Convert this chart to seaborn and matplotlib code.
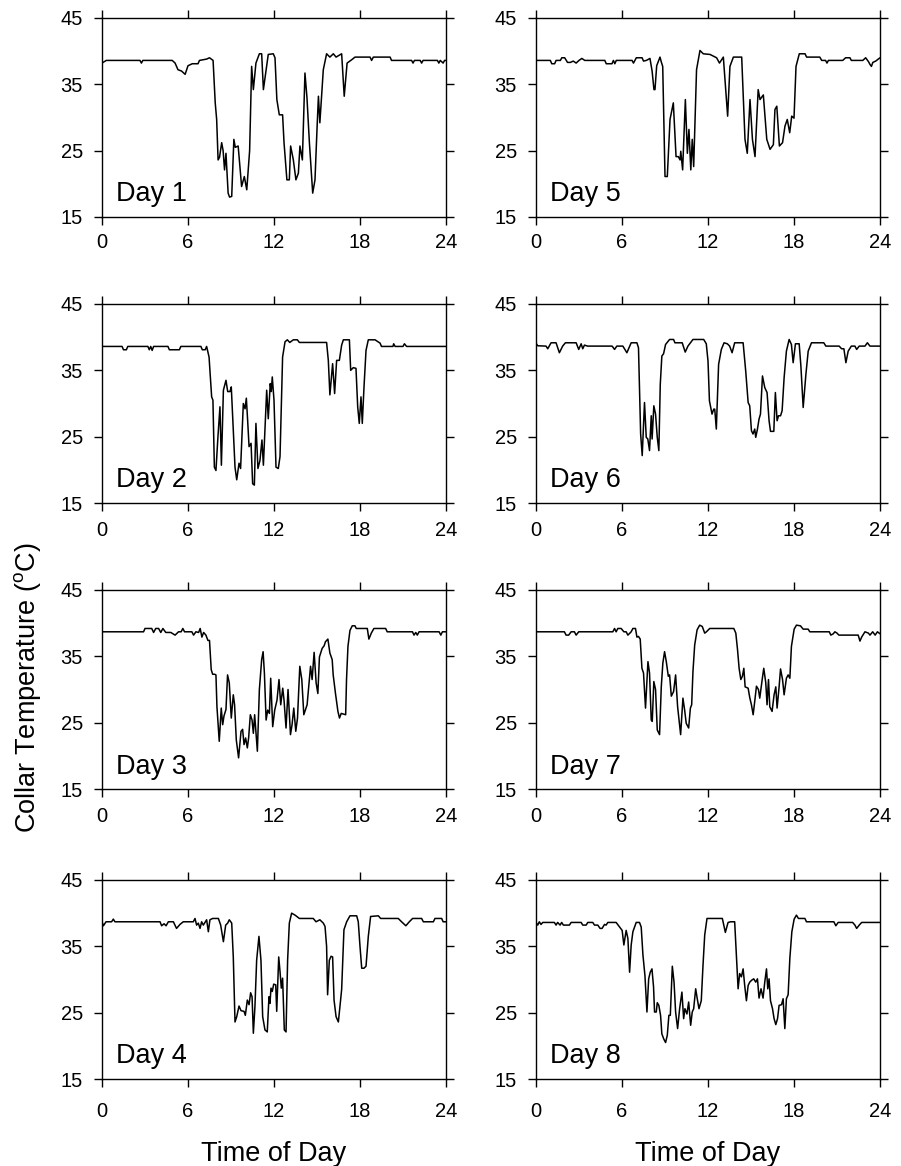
import pandas as pd
import seaborn as sns
import matplotlib.pyplot as plt

# (hour, collar temperature degC), one list per day
day1 = [(0, 38.2), (0.3, 38.6), (2.65, 38.6), (2.75, 38.2), (2.85, 38.6), (4.9, 38.6), (5.1, 38.2), (5.3, 37.2),
        (5.55, 37.0), (5.8, 36.5), (6.0, 37.8), (6.3, 38.1), (6.7, 38.1), (6.8, 38.6), (7.3, 38.8), (7.5, 39.0),
        (7.75, 38.6), (7.9, 32.2), (8.0, 29.7), (8.1, 23.6), (8.2, 24.0), (8.35, 26.2), (8.45, 25.0), (8.55, 22.1),
        (8.65, 24.6), (8.8, 18.6), (8.9, 18.0), (9.05, 18.1), (9.2, 26.7), (9.3, 25.5), (9.5, 25.7), (9.74, 19.6),
        (9.93, 21.1), (10.1, 19.1), (10.3, 25.0), (10.44, 37.7), (10.56, 34.2), (10.74, 38.2), (10.98, 39.6),
        (11.14, 39.6), (11.26, 34.2), (11.6, 39.5), (11.95, 39.6), (12.07, 39.0), (12.2, 32.7), (12.37, 30.4),
        (12.6, 30.4), (12.7, 26.2), (12.9, 20.6), (13.07, 20.6), (13.16, 25.7), (13.35, 23.6), (13.53, 20.6),
        (13.7, 21.6), (13.81, 25.7), (13.98, 23.6), (14.16, 36.7), (14.3, 33.0), (14.47, 26.2), (14.7, 18.6),
        (14.86, 20.6), (15.0, 28.2), (15.1, 33.2), (15.2, 29.2), (15.44, 37.2), (15.67, 39.6), (15.9, 39.1),
        (16.14, 39.6), (16.33, 39.1), (16.72, 39.6), (16.9, 33.2), (17.1, 38.2), (17.42, 38.7), (17.65, 39.1),
        (18.7, 39.1), (18.81, 38.6), (18.93, 39.1), (20.1, 39.1), (20.2, 38.6), (21.6, 38.6), (21.7, 38.2),
        (21.8, 38.6), (22.2, 38.6), (22.3, 38.2), (22.4, 38.6), (23.4, 38.6), (23.5, 38.2), (23.6, 38.6),
        (23.8, 38.2), (23.9, 38.6), (24, 38.6)]

day2 = [(0, 38.6), (1.4, 38.6), (1.5, 38.1), (1.7, 38.1), (1.8, 38.6), (3.2, 38.6), (3.3, 38.1), (3.4, 38.6),
        (3.5, 38.0), (3.6, 38.6), (4.6, 38.6), (4.7, 38.1), (5.4, 38.1), (5.5, 38.6), (6.9, 38.6), (7.0, 38.1),
        (7.2, 38.1), (7.3, 38.6), (7.47, 37.0), (7.65, 31.0), (7.74, 30.5), (7.84, 20.4), (7.95, 19.9),
        (8.09, 25.0), (8.23, 29.5), (8.33, 20.7), (8.47, 32.0), (8.65, 33.5), (8.77, 31.8), (8.93, 31.8),
        (9.02, 32.5), (9.16, 26.0), (9.28, 20.4), (9.4, 18.5), (9.56, 21.0), (9.67, 20.2), (9.86, 30.0),
        (9.98, 29.2), (10.07, 30.8), (10.16, 27.5), (10.26, 23.5), (10.4, 24.0), (10.51, 17.9), (10.63, 17.7),
        (10.74, 27.0), (10.88, 20.2), (11.02, 21.4), (11.16, 24.5), (11.26, 20.7), (11.49, 32.0), (11.6, 27.7),
        (11.74, 33.0), (11.81, 31.8), (11.88, 34.0), (12.0, 30.5), (12.14, 20.4), (12.3, 20.2), (12.42, 22.0),
        (12.6, 37.0), (12.77, 39.3), (12.93, 39.6), (13.1, 39.2), (13.35, 39.6), (13.63, 39.6), (13.77, 39.2),
        (15.67, 39.2), (15.79, 36.5), (15.9, 31.3), (16.09, 36.0), (16.23, 31.5), (16.37, 36.5), (16.56, 36.5),
        (16.72, 38.8), (16.84, 39.6), (17.26, 39.6), (17.35, 35.0), (17.53, 35.4), (17.72, 35.3), (17.84, 29.5),
        (17.95, 27.0), (18.07, 31.0), (18.16, 27.0), (18.28, 32.5), (18.42, 38.0), (18.58, 39.6), (19.05, 39.6),
        (19.4, 39.1), (19.5, 38.6), (20.3, 38.6), (20.35, 39.0), (20.45, 38.6), (21.0, 38.6), (21.1, 39.0),
        (21.25, 38.6), (24, 38.6)]

day3 = [(0, 38.7), (2.9, 38.7), (3.0, 39.2), (3.47, 39.2), (3.6, 38.6), (3.75, 39.2), (3.95, 39.2), (4.1, 38.6),
        (4.25, 39.2), (4.45, 38.6), (4.8, 38.6), (5.1, 38.2), (5.34, 38.7), (5.52, 38.7), (5.64, 39.2),
        (5.76, 38.7), (6.27, 38.7), (6.39, 38.2), (6.55, 38.7), (6.74, 38.6), (6.85, 39.2), (6.97, 37.9),
        (7.09, 38.6), (7.25, 38.2), (7.39, 37.4), (7.5, 37.4), (7.62, 33.0), (7.72, 32.3), (7.86, 32.3),
        (7.95, 32.2), (8.02, 27.4), (8.18, 22.2), (8.32, 27.2), (8.42, 24.7), (8.51, 26.0), (8.65, 27.0),
        (8.76, 32.2), (8.88, 31.0), (9.02, 25.7), (9.16, 29.2), (9.25, 27.7), (9.37, 22.4), (9.53, 19.7),
        (9.7, 23.7), (9.81, 24.0), (9.91, 21.7), (10.02, 22.7), (10.14, 21.2), (10.23, 22.7), (10.35, 26.2),
        (10.47, 25.4), (10.56, 23.4), (10.65, 26.2), (10.84, 20.7), (10.98, 30.0), (11.14, 34.5), (11.24, 35.7),
        (11.33, 32.5), (11.45, 25.4), (11.56, 26.9), (11.68, 26.4), (11.77, 31.7), (11.91, 24.4), (12.05, 26.9),
        (12.21, 28.4), (12.35, 31.5), (12.47, 27.7), (12.61, 30.2), (12.7, 28.4), (12.84, 24.2), (12.98, 30.0),
        (13.15, 23.2), (13.26, 24.7), (13.38, 27.2), (13.52, 23.7), (13.64, 25.7), (13.8, 33.5), (13.94, 31.5),
        (14.08, 26.2), (14.31, 27.7), (14.55, 33.5), (14.66, 31.5), (14.8, 35.6), (14.94, 31.0), (15.06, 29.4),
        (15.17, 34.9), (15.36, 36.2), (15.5, 36.6), (15.59, 37.2), (15.76, 37.6), (15.9, 35.5), (16.06, 34.5),
        (16.13, 32.2), (16.29, 29.4), (16.46, 26.7), (16.57, 25.7), (16.69, 26.4), (17.0, 26.2), (17.06, 31.5),
        (17.16, 36.5), (17.3, 38.9), (17.46, 39.6), (17.65, 39.6), (17.74, 39.2), (18.51, 39.2), (18.62, 37.6),
        (18.79, 38.5), (18.97, 39.2), (19.79, 39.2), (19.9, 38.7), (21.66, 38.7), (21.77, 38.2), (21.89, 38.6),
        (22.0, 38.2), (22.12, 38.7), (23.52, 38.7), (23.64, 38.2), (23.75, 38.7), (24, 38.7)]

day4 = [(0, 38.7), (0.1, 38.1), (0.28, 38.7), (0.67, 38.7), (0.79, 39.1), (0.9, 38.7), (4.05, 38.7), (4.16, 38.1),
        (4.33, 38.4), (4.47, 38.1), (4.63, 38.7), (4.98, 38.7), (5.2, 37.7), (5.44, 38.3), (5.67, 38.7),
        (6.37, 38.7), (6.49, 39.2), (6.6, 38.2), (6.72, 38.5), (6.84, 37.7), (6.95, 38.7), (7.07, 38.2),
        (7.3, 39.0), (7.42, 37.2), (7.53, 39.0), (7.72, 39.2), (8.12, 39.2), (8.28, 38.2), (8.47, 35.7),
        (8.63, 38.2), (8.77, 38.5), (8.88, 39.0), (9.05, 38.5), (9.16, 33.4), (9.28, 23.6), (9.4, 24.4),
        (9.56, 26.0), (9.7, 25.3), (9.91, 25.2), (10.0, 24.6), (10.14, 26.9), (10.26, 26.2), (10.37, 28.0),
        (10.47, 27.4), (10.56, 21.9), (10.67, 25.9), (10.79, 32.9), (10.95, 36.5), (11.09, 32.9), (11.21, 24.4),
        (11.37, 22.4), (11.53, 22.1), (11.65, 27.4), (11.72, 26.4), (11.79, 28.7), (11.88, 28.2), (11.98, 29.3),
        (12.12, 29.2), (12.19, 25.2), (12.33, 33.4), (12.42, 31.2), (12.51, 28.7), (12.6, 30.2), (12.72, 22.4),
        (12.84, 22.1), (12.95, 32.9), (13.07, 38.5), (13.23, 40.0), (13.47, 39.7), (13.77, 39.2), (14.74, 39.2),
        (14.93, 38.7), (15.2, 39.0), (15.44, 38.5), (15.56, 38.0), (15.67, 35.0), (15.74, 27.7), (15.86, 32.9),
        (15.98, 33.5), (16.09, 33.4), (16.19, 26.9), (16.33, 24.4), (16.49, 23.6), (16.6, 25.9), (16.72, 28.5),
        (16.88, 37.5), (17.07, 38.7), (17.3, 39.6), (17.77, 39.6), (17.88, 38.7), (18.0, 35.0), (18.12, 31.7),
        (18.28, 31.7), (18.42, 32.0), (18.58, 36.5), (18.74, 39.5), (19.28, 39.6), (19.44, 39.2), (20.67, 39.2),
        (20.9, 38.7), (21.2, 38.1), (21.44, 38.7), (21.67, 39.2), (22.3, 39.2), (22.42, 38.7), (23.12, 38.7),
        (23.23, 39.2), (23.7, 39.2), (23.8, 38.7), (24, 38.7)]

day5 = [(0, 38.6), (1.0, 38.6), (1.1, 38.1), (1.3, 38.1), (1.4, 38.6), (1.7, 38.6), (1.8, 39.0), (2.0, 39.0),
        (2.2, 38.3), (2.4, 38.3), (2.6, 38.5), (2.8, 38.2), (3.0, 38.6), (3.2, 38.9), (3.4, 38.6), (4.8, 38.6),
        (4.9, 38.1), (5.3, 38.1), (5.4, 38.6), (5.5, 38.1), (5.6, 38.6), (6.7, 38.6), (6.8, 38.2), (7.0, 39.0),
        (7.4, 39.0), (7.5, 38.5), (7.7, 38.6), (7.95, 38.9), (8.1, 37.0), (8.23, 34.2), (8.3, 34.2), (8.42, 37.8),
        (8.65, 39.1), (8.75, 38.3), (8.84, 37.7), (9.0, 21.1), (9.16, 21.1), (9.35, 29.7), (9.58, 32.2),
        (9.77, 24.1), (9.93, 24.1), (10.05, 23.6), (10.1, 24.9), (10.23, 22.1), (10.42, 32.7), (10.56, 24.6),
        (10.67, 28.2), (10.8, 22.1), (10.9, 26.7), (11.0, 22.6), (11.2, 37.2), (11.44, 40.1), (11.67, 39.6),
        (12.14, 39.5), (12.6, 39.0), (12.8, 38.2), (13.07, 39.1), (13.37, 30.2), (13.53, 37.7), (13.77, 39.1),
        (14.35, 39.1), (14.58, 26.7), (14.74, 24.6), (14.93, 32.7), (15.1, 26.7), (15.28, 24.1), (15.5, 34.2),
        (15.63, 32.7), (15.86, 33.4), (16.1, 26.7), (16.33, 25.2), (16.56, 25.9), (16.67, 31.2), (16.8, 31.7),
        (16.98, 25.7), (17.2, 26.2), (17.37, 28.7), (17.53, 29.7), (17.7, 27.7), (17.84, 30.2), (18.0, 29.9),
        (18.14, 37.7), (18.37, 39.6), (18.77, 39.6), (18.88, 39.1), (19.8, 39.1), (19.93, 38.6), (20.2, 38.6),
        (20.3, 38.2), (20.4, 38.6), (21.4, 38.6), (21.6, 39.0), (21.9, 39.0), (22.0, 38.6), (22.8, 38.6),
        (23.0, 39.0), (23.2, 38.4), (23.3, 38.0), (23.4, 37.7), (23.5, 38.3), (23.7, 38.5), (24, 39.0)]

day6 = [(0, 39.1), (0.12, 38.7), (0.7, 38.65), (0.82, 38.25), (1.05, 39.15), (1.4, 39.15), (1.63, 37.65),
        (1.86, 38.65), (2.05, 39.15), (2.8, 39.15), (2.98, 38.15), (3.15, 39.0), (3.26, 38.25), (3.38, 38.8),
        (3.6, 38.65), (5.31, 38.65), (5.48, 38.15), (5.64, 38.65), (6.06, 38.65), (6.34, 37.65), (6.64, 39.15),
        (7.04, 39.15), (7.15, 38.4), (7.3, 25.4), (7.41, 22.15), (7.57, 30.15), (7.69, 24.9), (7.8, 24.65),
        (7.92, 22.9), (8.04, 28.15), (8.1, 24.65), (8.22, 29.65), (8.34, 28.4), (8.46, 24.9), (8.57, 22.9),
        (8.67, 32.9), (8.78, 37.15), (8.9, 37.5), (9.04, 38.9), (9.32, 39.65), (9.6, 39.65), (9.69, 39.15),
        (10.2, 39.15), (10.41, 37.75), (10.6, 38.65), (10.95, 39.65), (11.7, 39.65), (11.88, 39.0), (12.0, 36.4),
        (12.1, 30.4), (12.28, 28.4), (12.4, 29.15), (12.47, 29.15), (12.58, 26.15), (12.74, 35.9), (12.93, 38.15),
        (13.12, 39.15), (13.35, 39.0), (13.51, 38.65), (13.68, 37.65), (13.86, 39.15), (14.45, 39.15),
        (14.63, 34.9), (14.8, 30.15), (14.91, 29.65), (15.03, 25.9), (15.14, 25.4), (15.26, 26.15), (15.33, 24.9),
        (15.45, 26.15), (15.56, 27.65), (15.66, 28.4), (15.8, 34.15), (15.96, 32.4), (16.12, 31.65), (16.26, 27.4),
        (16.36, 25.8), (16.59, 25.8), (16.7, 31.65), (16.82, 27.4), (16.92, 28.15), (17.06, 28.15), (17.17, 28.9),
        (17.31, 33.9), (17.47, 37.9), (17.66, 39.65), (17.82, 38.9), (17.94, 36.15), (18.1, 39.0), (18.36, 39.0),
        (18.48, 35.65), (18.64, 29.4), (18.83, 34.4), (18.99, 37.9), (19.22, 39.15), (20.08, 39.15),
        (20.22, 38.65), (21.15, 38.65), (21.32, 38.25), (21.48, 38.25), (21.62, 36.15), (21.78, 37.9),
        (22.0, 38.65), (22.25, 38.65), (22.37, 38.15), (22.55, 38.65), (22.95, 38.65), (23.12, 39.15),
        (23.3, 38.65), (24, 38.65)]

day7 = [(0, 38.7), (1.98, 38.7), (2.1, 38.2), (2.28, 38.2), (2.45, 38.7), (2.68, 38.7), (2.8, 38.2), (2.98, 38.7),
        (5.36, 38.7), (5.48, 39.2), (5.59, 38.7), (5.71, 39.2), (5.94, 39.2), (6.13, 38.7), (6.29, 38.7),
        (6.41, 38.2), (6.64, 38.7), (6.76, 39.2), (6.94, 39.2), (7.04, 37.9), (7.15, 38.0), (7.27, 37.6),
        (7.39, 33.2), (7.5, 32.5), (7.64, 27.2), (7.81, 34.2), (7.92, 32.5), (8.04, 25.4), (8.11, 25.2),
        (8.22, 31.2), (8.34, 30.0), (8.46, 23.9), (8.62, 23.2), (8.74, 30.4), (8.85, 34.0), (8.97, 35.7),
        (9.09, 34.2), (9.23, 32.0), (9.32, 32.2), (9.44, 29.0), (9.6, 29.7), (9.74, 32.2), (9.88, 27.4),
        (10.09, 23.2), (10.25, 28.7), (10.37, 26.9), (10.48, 24.9), (10.65, 24.2), (10.77, 27.2), (10.86, 27.7),
        (10.95, 32.7), (11.07, 36.7), (11.24, 39.0), (11.42, 39.7), (11.6, 39.5), (11.77, 38.5), (11.89, 38.7),
        (12.12, 39.2), (13.8, 39.2), (13.94, 38.5), (14.06, 36.0), (14.17, 33.2), (14.29, 31.5), (14.4, 32.0),
        (14.5, 33.2), (14.59, 30.4), (14.8, 30.2), (14.92, 28.7), (15.03, 27.7), (15.15, 26.2), (15.27, 28.4),
        (15.38, 30.5), (15.52, 30.0), (15.61, 28.7), (15.78, 31.5), (15.89, 33.2), (16.03, 31.0), (16.12, 27.7),
        (16.22, 31.5), (16.31, 27.4), (16.47, 26.7), (16.61, 29.2), (16.73, 30.4), (16.82, 27.2), (16.96, 30.4),
        (17.06, 33.1), (17.2, 31.5), (17.31, 29.2), (17.47, 31.7), (17.59, 32.2), (17.71, 31.7), (17.82, 36.5),
        (18.01, 39.1), (18.17, 39.7), (18.45, 39.6), (18.64, 39.1), (18.99, 39.1), (19.1, 38.7), (20.46, 38.7),
        (20.57, 38.2), (20.74, 38.4), (20.85, 38.7), (21.0, 38.5), (21.13, 38.2), (22.48, 38.2), (22.6, 37.3),
        (22.72, 37.9), (22.95, 38.7), (23.19, 38.5), (23.3, 38.2), (23.49, 38.7), (23.66, 38.2), (23.82, 38.7),
        (24, 38.4)]

day8 = [(0, 38.6), (0.12, 38.2), (0.23, 38.7), (0.35, 38.3), (0.47, 38.6), (1.28, 38.6), (1.4, 38.2), (1.51, 38.6),
        (1.68, 38.2), (1.79, 38.6), (1.91, 38.2), (2.33, 38.2), (2.45, 38.6), (3.15, 38.6), (3.26, 38.2),
        (3.5, 38.2), (3.61, 38.6), (3.96, 38.6), (4.08, 38.2), (4.31, 38.2), (4.47, 37.7), (4.61, 37.7),
        (4.78, 38.3), (4.89, 38.2), (5.01, 38.6), (5.59, 38.6), (5.83, 37.9), (6.01, 37.4), (6.13, 35.2),
        (6.29, 37.4), (6.41, 36.2), (6.53, 31.1), (6.64, 35.2), (6.76, 37.2), (6.99, 38.6), (7.22, 38.6),
        (7.34, 37.9), (7.46, 33.7), (7.6, 30.6), (7.74, 25.1), (7.86, 30.1), (7.97, 31.1), (8.09, 31.6),
        (8.2, 28.9), (8.27, 25.1), (8.39, 25.1), (8.46, 26.5), (8.57, 26.1), (8.69, 24.6), (8.78, 21.8),
        (8.92, 21.0), (9.04, 20.5), (9.16, 21.6), (9.27, 24.6), (9.37, 24.6), (9.51, 32.0), (9.63, 29.6),
        (9.74, 25.1), (9.88, 22.6), (10.02, 25.6), (10.18, 28.1), (10.3, 24.1), (10.39, 25.6), (10.53, 24.8),
        (10.65, 26.6), (10.79, 23.1), (10.9, 25.1), (11.0, 25.6), (11.14, 28.6), (11.25, 27.1), (11.37, 25.6),
        (11.53, 26.8), (11.65, 32.1), (11.77, 36.7), (11.93, 39.2), (13.0, 39.2), (13.1, 38.2), (13.21, 37.1),
        (13.4, 38.6), (13.58, 38.7), (13.86, 38.7), (13.98, 33.7), (14.1, 28.6), (14.21, 30.9), (14.33, 30.4),
        (14.45, 31.6), (14.56, 29.1), (14.68, 26.8), (14.8, 29.1), (14.91, 29.6), (15.05, 29.9), (15.19, 30.1),
        (15.33, 29.6), (15.45, 30.1), (15.56, 27.2), (15.7, 28.6), (15.84, 27.2), (15.96, 29.6), (16.08, 31.6),
        (16.17, 28.6), (16.26, 30.1), (16.36, 26.8), (16.5, 25.6), (16.61, 24.1), (16.73, 23.2), (16.85, 24.1),
        (16.96, 26.1), (17.13, 26.2), (17.24, 27.1), (17.36, 22.6), (17.47, 27.1), (17.59, 27.7), (17.71, 33.2),
        (17.85, 37.2), (18.01, 39.1), (18.17, 39.7), (18.31, 39.2), (18.76, 39.2), (18.87, 38.7), (20.78, 38.7),
        (20.92, 38.1), (21.08, 38.6), (22.09, 38.6), (22.25, 38.2), (22.37, 37.7), (22.55, 38.2), (22.72, 38.6),
        (24, 38.6)]

days = [day1, day2, day3, day4, day5, day6, day7, day8]
day_names = ["Day 1", "Day 2", "Day 3", "Day 4", "Day 5", "Day 6", "Day 7", "Day 8"]
x_ticks = [0, 6, 12, 18, 24]
y_ticks = [15, 25, 35, 45]

sns.set_theme(style="ticks")
plt.rcParams["font.family"] = ["Liberation Sans", "DejaVu Sans"]
plt.rcParams["mathtext.fontset"] = "custom"
plt.rcParams["mathtext.rm"] = "Liberation Sans"
plt.rcParams["text.color"] = "black"
plt.rcParams["axes.edgecolor"] = "black"
plt.rcParams["xtick.color"] = "black"
plt.rcParams["ytick.color"] = "black"

fig = plt.figure(figsize=(9.01, 11.66), dpi=100)

lefts = [0.1132, 0.5949]
bottoms = [0.8139, 0.5686, 0.3233, 0.0746]
xpads = [6, 7, 7, 11]

for i, day in enumerate(days):
    col, row = divmod(i, 4)
    ax = fig.add_axes([lefts[col], bottoms[row], 0.3818, 0.1707])
    df = pd.DataFrame(day, columns=["hour", "temp"])
    sns.lineplot(data=df, x="hour", y="temp", ax=ax, color="black",
                 linewidth=1.1, estimator=None, sort=False)
    ax.set_xlim(0, 24)
    ax.set_ylim(15, 45)
    ax.set_xticks(x_ticks)
    ax.set_yticks(y_ticks)
    ax.set_xlabel("")
    ax.set_ylabel("")
    for s in ax.spines.values():
        s.set_visible(True)
        s.set_linewidth(1.0)
        s.set_color("black")
    ax.tick_params(axis="both", which="major", direction="out", length=5.8, width=1.0,
                   top=True, right=True, labelsize=14.5)
    ax.tick_params(axis="x", pad=xpads[row])
    ax.tick_params(axis="y", pad=8)
    ax.text(0.04, 0.078, day_names[i], transform=ax.transAxes, fontsize=19.5,
            ha="left", va="baseline")

    if row == 3:
        fig.text(lefts[col] + 0.3818 / 2, 0.004, "Time of Day", fontsize=19.5,
                 ha="center", va="baseline")

fig.text(0.0305, 0.41, r"Collar Temperature ($\mathregular{^{o}}$C)", fontsize=19.5,
         rotation=90, ha="center", va="center")

plt.savefig("out.png", dpi=100)
